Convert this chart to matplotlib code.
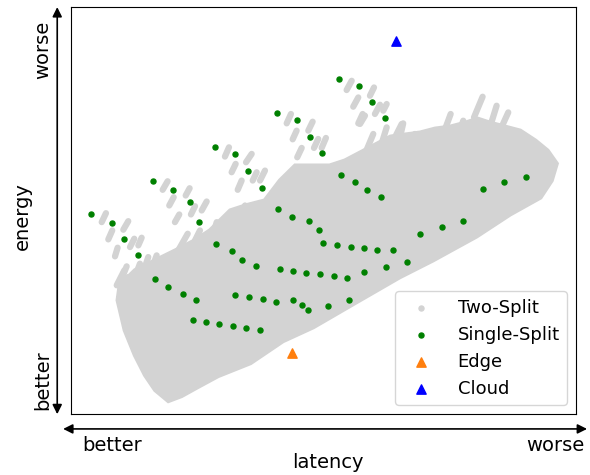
import matplotlib
matplotlib.use("Agg")
import matplotlib.pyplot as plt

# Single-Split points (latency, energy), arbitrary units
single_lat = [20, 40, 52, 66, 83, 96, 110, 123, 120, 133, 146, 160, 173, 186,
              81, 101, 117, 126, 143, 159, 169, 182, 162, 176, 189, 202, 219, 228, 234, 253, 274,
              142, 162, 175, 188, 204, 218, 235, 245, 206, 219, 232, 246, 259, 272, 289, 311, 331,
              203, 223, 236, 248, 266, 280, 292, 306, 249, 262, 276, 289, 302, 318, 344, 366, 387,
              264, 284, 297, 310, 406, 427, 449]
single_energy = [200, 191, 175, 159, 135, 127, 120, 114, 94, 92, 90, 88, 86, 84,
                 234, 225, 212, 192, 170, 163, 154, 148, 119, 117, 115, 112, 114, 109, 104, 108, 114,
                 268, 261, 244, 227, 205, 197, 193, 184, 145, 143, 141, 140, 138, 136, 142, 147, 152,
                 302, 295, 278, 262, 240, 233, 225, 218, 171, 169, 167, 166, 164, 164, 180, 187, 193,
                 336, 329, 313, 297, 226, 233, 238]

edge_lat, edge_energy = [218], [61]
cloud_lat, cloud_energy = [320], [374]

# Two-Split: outline of the dense part of the cloud
core_lat = [96, 109, 125, 145, 177, 209, 239, 278, 324, 357, 400, 433, 463, 474, 479,
            470, 458, 443, 428, 413, 401, 389, 374, 359, 344, 329, 315, 300, 285, 270,
            255, 236, 221, 206, 191, 172, 157, 137, 122, 103, 83, 63, 48, 46, 53, 63, 73, 83]
core_energy = [13, 18, 27, 38, 51, 73, 87, 110, 137, 154, 178, 200, 217, 234, 251,
               264, 274, 284, 288, 292, 296, 292, 288, 286, 282, 280, 278, 270, 262, 254,
               249, 249, 249, 234, 214, 209, 204, 184, 174, 164, 154, 144, 129, 114, 84, 59, 39, 24]

# Two-Split: sparse streaks around the edge of the cloud (start / end)
streak_lat0 = [30.3, 36.8, 51.6, 43.4, 58.2, 66.4, 90.4, 96.9, 113.1, 102.5, 118.3, 128.9, 151.8, 158.4,
               164.4, 167.6, 271.8, 278.3, 294.8, 299.7, 307.9, 283.3, 212.7, 218.6, 234, 223.1,
               239.6, 247.2, 172.6, 179.2, 186.4, 227.5, 289.9, 397.4, 367.1, 413.1, 423, 324.4, 331, 344.1,
               376.9, 285, 304.7, 317.8, 337.5, 446, 449.3, 450.9, 470.6, 475.5, 459.5,
               45.1, 48.3, 54.9, 59.9, 50, 63.1, 69.7, 77.9, 105.8, 109.1, 122.3, 135.4]
streak_en0 = [192.3, 175, 184.7, 158, 167.3, 169, 224.7, 209, 219, 192.3, 200, 204, 258, 242.3,
              224.7, 194, 324.7, 308, 319, 300.7, 304, 291.3, 291.3, 275.3, 284, 257.3,
              266.7, 266.7, 252.3, 234, 234, 227.3, 260.7, 297.3, 280.7, 287.3, 284, 277.3, 267.3, 260.7,
              264, 290.7, 265.7, 274, 267.3, 290.7, 282.3, 274, 260.7, 254, 268,
              129, 117.3, 97.3, 79, 135.7, 137.3, 137.3, 140.7, 164, 150.7, 174, 164]
streak_lat1 = [34.5, 40.7, 56.5, 46, 62.4, 69.7, 95.3, 101.3, 117, 106.8, 122.3, 133.8, 155.8, 162.4,
               168.3, 171.6, 276.8, 283.3, 298.8, 304.7, 311.3, 287.6, 216.9, 222.5, 238.3, 227.5,
               243.8, 251.4, 178.2, 183.1, 191.3, 235.7, 298.1, 405.9, 374.4, 419.7, 431.2, 327.6, 339.2, 354,
               386.8, 289.9, 311.3, 326.1, 342.4, 446, 449.3, 450.9, 470.6, 475.5, 459.5,
               52.6, 56.5, 63.1, 66.4, 54.9, 68, 76.2, 84.5, 115.1, 114.1, 127.2, 143.7]
streak_en1 = [201.3, 184, 193.3, 166.7, 175.7, 176.7, 233.3, 217.3, 226.3, 200, 208.3, 213, 267.3, 250.7,
              234, 209, 334, 317.3, 327.3, 310, 310.7, 300.7, 300.7, 284, 293, 266.7,
              275.7, 276.7, 260.7, 242.3, 244, 247.3, 280.7, 318, 300.7, 309, 302.3, 291.3, 280.7, 272.3,
              294, 299, 287.3, 290.7, 280.7, 290.7, 282.3, 274, 260.7, 254, 268,
              144, 137.3, 124, 100.7, 148, 150.7, 157.3, 159, 180.7, 164, 184, 192.3]

gray = '#d3d3d3'

fig = plt.figure(figsize=(5.9, 4.75), dpi=100)
ax = fig.add_axes([0.1203, 0.1284, 0.856, 0.857])

ax.fill(core_lat, core_energy, color=gray, lw=3, ec=gray, zorder=1)
for x0, y0, x1, y1 in zip(streak_lat0, streak_en0, streak_lat1, streak_en1):
    ax.plot([x0, x1], [y0, y1], color=gray, lw=4.5, solid_capstyle='round', zorder=1)
ax.scatter([], [], s=13, color=gray, label='Two-Split')

ax.scatter(single_lat, single_energy, s=13, color='green', zorder=3, label='Single-Split')
ax.scatter(edge_lat, edge_energy, s=45, marker='^', color='#ff7f0e', zorder=3, label='Edge')
ax.scatter(cloud_lat, cloud_energy, s=45, marker='^', color='blue', zorder=3, label='Cloud')

ax.set_xlim(0, 498)
ax.set_ylim(0, 408)
ax.set_xticks([])
ax.set_yticks([])

ax.legend(loc='lower right', fontsize=13, handletextpad=1.05, borderpad=0.4,
          labelspacing=0.5, handlelength=2.0)

# better / worse arrows
ax.annotate('', xy=(0.995, 0.097), xytext=(0.107, 0.097), xycoords='figure fraction',
            arrowprops=dict(arrowstyle='<|-|>', color='black', lw=1.2, mutation_scale=14,
                            shrinkA=0, shrinkB=0))
ax.annotate('', xy=(0.097, 0.985), xytext=(0.097, 0.128), xycoords='figure fraction',
            arrowprops=dict(arrowstyle='<|-|>', color='black', lw=1.2, mutation_scale=14,
                            shrinkA=0, shrinkB=0))

fig.text(0.14, 0.063, 'better', ha='left', va='center', fontsize=14)
fig.text(0.99, 0.063, 'worse', ha='right', va='center', fontsize=14)
fig.text(0.556, 0.027, 'latency', ha='center', va='center', fontsize=14)
fig.text(0.072, 0.2, 'better', ha='center', va='center', fontsize=14, rotation=90)
fig.text(0.072, 0.895, 'worse', ha='center', va='center', fontsize=14, rotation=90)
fig.text(0.038, 0.545, 'energy', ha='center', va='center', fontsize=14, rotation=90)

fig.savefig('out.png', dpi=100)
